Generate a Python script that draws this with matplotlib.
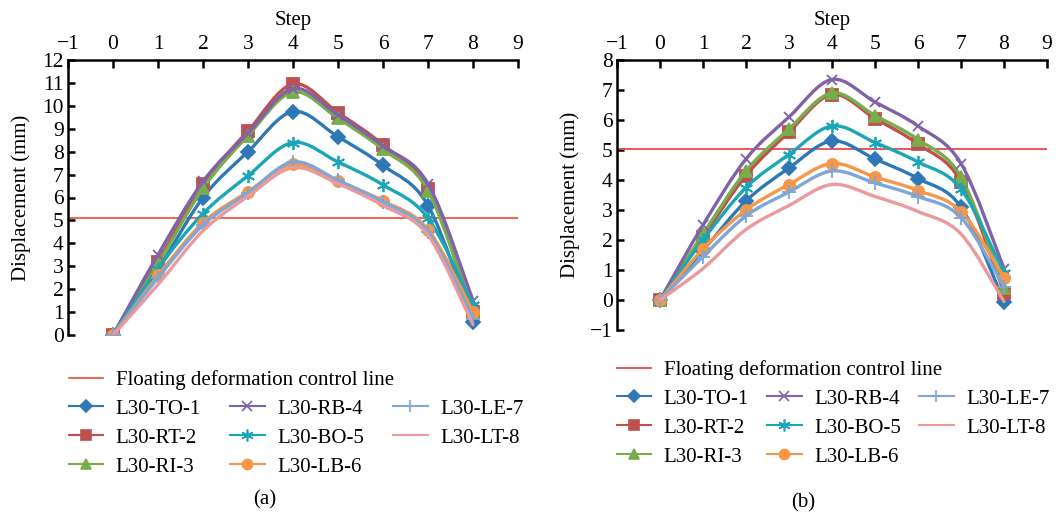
import numpy as np
import matplotlib
matplotlib.use("Agg")
import matplotlib.pyplot as plt
from matplotlib.path import Path
from matplotlib.patches import PathPatch
from matplotlib.lines import Line2D

plt.rcParams['font.family'] = ['Liberation Serif', 'DejaVu Serif']

steps = [0, 1, 2, 3, 4, 5, 6, 7, 8]
series_names = ["L30-TO-1", "L30-RT-2", "L30-RI-3", "L30-RB-4",
                "L30-BO-5", "L30-LB-6", "L30-LE-7", "L30-LT-8"]

# Panel (a)
a_TO1 = [0, 2.85, 6.0, 8.0, 9.75, 8.65, 7.4, 5.65, 0.55]
a_RT2 = [0, 3.2, 6.6, 8.9, 10.95, 9.7, 8.3, 6.35, 1.0]
a_RI3 = [0, 3.1, 6.4, 8.7, 10.6, 9.45, 8.1, 6.3, 1.0]
a_RB4 = [0, 3.5, 6.7, 8.8, 10.75, 9.6, 8.25, 6.6, 1.5]
a_BO5 = [0, 2.9, 5.3, 6.95, 8.4, 7.55, 6.55, 5.1, 1.3]
a_LB6 = [0, 2.6, 4.9, 6.25, 7.45, 6.7, 5.85, 4.6, 1.0]
a_LE7 = [0, 2.5, 4.8, 6.2, 7.55, 6.75, 5.8, 4.5, 0.7]
a_LT8 = [0, 2.2, 4.55, 6.05, 7.3, 6.6, 5.65, 4.35, 0.45]
a_control = 5.1

# Panel (b)
b_TO1 = [0, 1.65, 3.3, 4.4, 5.3, 4.7, 4.05, 3.1, -0.05]
b_RT2 = [0, 2.1, 4.15, 5.6, 6.85, 6.05, 5.2, 3.95, 0.25]
b_RI3 = [0, 2.2, 4.3, 5.7, 6.9, 6.15, 5.35, 4.1, 0.4]
b_RB4 = [0, 2.5, 4.7, 6.1, 7.35, 6.6, 5.8, 4.55, 1.05]
b_BO5 = [0, 2.0, 3.75, 4.85, 5.8, 5.25, 4.6, 3.7, 0.9]
b_LB6 = [0, 1.7, 3.0, 3.85, 4.55, 4.1, 3.65, 2.95, 0.75]
b_LE7 = [0, 1.45, 2.8, 3.6, 4.3, 3.9, 3.45, 2.75, 0.45]
b_LT8 = [0, 1.05, 2.35, 3.15, 3.85, 3.45, 2.95, 2.2, -0.05]
b_control = 5.05

a_series = [a_TO1, a_RT2, a_RI3, a_RB4, a_BO5, a_LB6, a_LE7, a_LT8]
b_series = [b_TO1, b_RT2, b_RI3, b_RB4, b_BO5, b_LB6, b_LE7, b_LT8]

colors = ['#2E78B5', '#C0504D', '#78AD4B', '#7F62A8',
          '#1BA6B8', '#F79646', '#7EA6D6', '#EA9A9A']
markers = ['D', 's', '^', 'x', (6, 2, 0), 'o', '+', None]
msizes = [7, 8, 8, 7.5, 9.5, 8, 9.5, 0]


def smooth_path(xs, ys, t=1/6):
    pts = np.column_stack([xs, ys]).astype(float)
    n = len(pts)
    verts = [pts[0]]
    codes = [Path.MOVETO]
    for i in range(n - 1):
        p0 = pts[i - 1] if i > 0 else pts[i]
        p1 = pts[i]
        p2 = pts[i + 1]
        p3 = pts[i + 2] if i + 2 < n else pts[i + 1]
        c1 = p1 + (p2 - p0) * t
        c2 = p2 - (p3 - p1) * t
        verts += [c1, c2, p2]
        codes += [Path.CURVE4] * 3
    return Path(verts, codes)


fig = plt.figure(figsize=(10.62, 5.13), dpi=100)

FS = 15
TFS = 15.5


def setup(ax, ylim, yticks, control, ccolor, data, ylpad, hpx):
    ax.set_xlim(-1, 9)
    ax.set_ylim(*ylim)
    ax.axhline(control, color=ccolor, lw=1.2, zorder=2)
    for i, ys in enumerate(data):
        patch = PathPatch(smooth_path(steps, ys), facecolor='none',
                          edgecolor=colors[i], lw=2.4, zorder=3 + i * 0.1,
                          capstyle='round', joinstyle='round')
        ax.add_patch(patch)
        if markers[i] is not None:
            ax.plot(steps, ys, linestyle='none', marker=markers[i],
                    ms=msizes[i], color=colors[i], mec=colors[i], mew=1.3,
                    zorder=3.05 + i * 0.1)
    for s in ['right', 'bottom']:
        ax.spines[s].set_visible(False)
    for s in ['left', 'top']:
        ax.spines[s].set_linewidth(1.8)
        ax.spines[s].set_color('black')
    ax.xaxis.tick_top()
    ax.xaxis.set_label_position('top')
    ax.set_xticks(range(-1, 10))
    ax.set_yticks(yticks)
    ax.tick_params(axis='x', direction='in', length=6, width=1.8,
                   labelsize=TFS, pad=4)
    ax.tick_params(axis='y', direction='in', length=5, width=1.8,
                   labelsize=TFS, pad=3)
    ax.set_xlabel('Step', fontsize=FS, va='center')
    ax.xaxis.set_label_coords(0.5, 1 + 40 / hpx)
    ax.set_ylabel('Displacement (mm)', fontsize=FS, labelpad=ylpad)
    ax.patch.set_alpha(0)


ax1 = fig.add_axes([68 / 1062, 1 - 335 / 513, 450 / 1062, 275 / 513])
setup(ax1, (0, 12), range(0, 13), a_control, '#EE4B3A', a_series, 8.3, 275)
ax2 = fig.add_axes([617 / 1062, 1 - 330 / 513, 430 / 1062, 270 / 513])
setup(ax2, (-1, 8), range(-1, 9), b_control, '#E83A3F', b_series, 7.5, 270)


def legends(x0, y0, ccolor, cs):
    h0 = [Line2D([], [], color=ccolor, lw=1.2)]
    fig.legend(h0, ['Floating deformation control line'],
               loc='upper left', bbox_to_anchor=(x0 / 1062, 1 - y0 / 513),
               frameon=False, fontsize=FS, handlelength=1.65,
               handletextpad=0.6, borderpad=0, borderaxespad=0)
    hs = [Line2D([], [], color=colors[i], lw=1.5,
                 marker=markers[i] if markers[i] is not None else None,
                 ms=msizes[i] * 0.9, mec=colors[i], mew=1.2)
          for i in range(8)]
    fig.legend(hs, series_names, loc='upper left',
               bbox_to_anchor=(x0 / 1062, 1 - (y0 + 29) / 513),
               ncol=3, frameon=False, fontsize=FS, handlelength=1.65,
               handletextpad=0.6, columnspacing=cs, labelspacing=0.45,
               borderpad=0, borderaxespad=0)


legends(69, 370, '#EE4B3A', 1.4)
legends(617, 360, '#E83A3F', 0.87)

fig.text(265 / 1062, 1 - 500 / 513, '(a)', fontsize=FS, ha='center', va='center')
fig.text(803 / 1062, 1 - 503 / 513, '(b)', fontsize=FS, ha='center', va='center')

fig.savefig('out.png', dpi=100)
